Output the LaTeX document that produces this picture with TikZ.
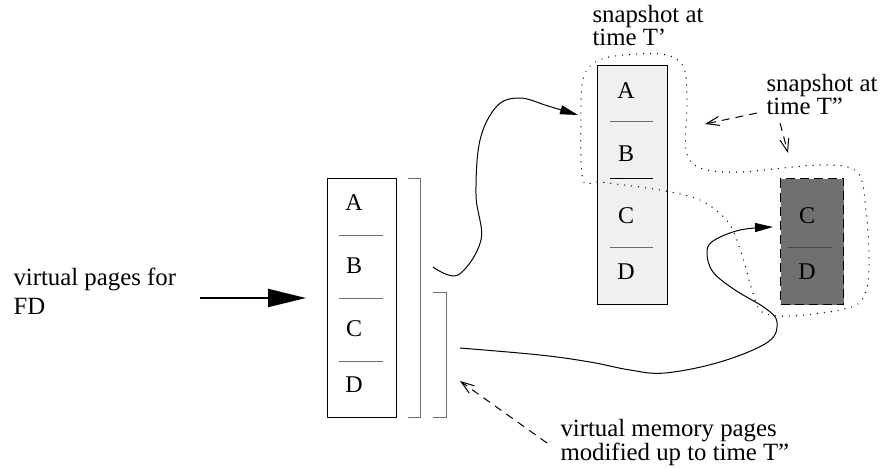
\documentclass[tikz,border=0pt]{standalone}
\usepackage{fontspec}
\setmainfont{Liberation Serif}
\usetikzlibrary{arrows.meta,positioning}
\definecolor{lightpage}{HTML}{F0F0F0}
\definecolor{darkpage}{HTML}{707070}
\definecolor{rulegray}{HTML}{6E6E6E}

\begin{document}
\begin{tikzpicture}[x=1pt, y=-1pt, line width=1pt,
  lbl/.style={anchor=base west, align=left, inner sep=0pt, font=\fontsize{24.8}{19}\selectfont},
  letter/.style={inner sep=0pt, font=\fontsize{24}{24}\selectfont},
  pagebox/.style={draw, anchor=north west, inner sep=0pt, minimum width=#1, minimum height=239pt},
  sep/.style={draw=rulegray},
  brk/.style={draw=rulegray},
  curve/.style={-{Triangle[length=18pt,width=9pt]}},
  note/.style={dash pattern=on 8pt off 6pt, -{Straight Barb[length=13pt,width=9pt]}},
  outline/.style={line cap=round, line width=1.4pt, dash pattern=on 0pt off 7pt}
]
  \useasboundingbox (0,0) rectangle (880,469);

  % page lists
  \node[pagebox=69pt] (fd) at (327,178) {};
  \node[pagebox=70pt, fill=lightpage] (snapA) at (597,65) {};
  \node[pagebox=63pt, fill=darkpage, line width=1.3pt, dash pattern=on 9pt off 5pt, minimum height=126pt] (snapB) at (780,178) {};

  \foreach \l/\y in {A/203,B/266,C/329,D/385}
    \node[letter] (fd\l) at (354,\y) {\l};
  \foreach \l/\y in {A/91,B/154,C/216,D/272}
    \node[letter] (snapA\l) at (626,\y) {\l};
  \foreach \l/\y in {C/216,D/272}
    \node[letter] (snapB\l) at (807,\y) {\l};

  \foreach \y in {235,298,361}
    \draw[sep] (339,\y) -- (383,\y);
  \draw[sep] (610,121) -- (653,121);
  \draw (610,178) -- (653,178);
  \draw[sep] (610,247) -- (653,247);
  \draw[draw=black!72] (788,247) -- (832,247);

  % brackets
  \draw[brk] (408,178) -- (420,178) -- (420,417) -- (408,417);
  \draw[brk] (433,292) -- (446,292) -- (446,417) -- (433,417);

  % labels (base = last line)
  \node[lbl, font=\fontsize{24.8}{29}\selectfont] (fdlbl) at (13,314) {virtual pages for\\FD};
  \node[lbl, font=\fontsize{24.8}{18}\selectfont] (t1lbl) at (592,45) {snapshot at\\time T'};
  \node[lbl, font=\fontsize{24.8}{20}\selectfont] (t2lbl) at (766,114) {snapshot at\\time T''};
  \node[lbl, font=\fontsize{24.8}{20}\selectfont] (vmlbl) at (560,460) {virtual memory pages\\modified up to time T''};

  % input arrow
  \coordinate (in) at (200,298);
  \draw[line width=2pt, -{Triangle[length=38pt,width=18pt]}] (in) -- ([xshift=-21pt]fd.west);

  % copy curves
  \coordinate (b1) at (433,267);
  \coordinate (b2) at (460,348);
  \draw[curve] plot[smooth, tension=0.6] coordinates {(b1) (458,275) (481,240) (476,195) (480,140) (497,106) (520,98) (548,106) (578,115)};
  \draw[curve] plot[smooth, tension=0.6] coordinates {(b2) (540,355) (590,362) (630,370) (665,373) (720,362) (768,342) (777,322) (765,308) (735,290) (713,272) (707,253) (713,241) (740,230) (773,227)};

  % snapshot outline
  \draw[outline] plot[smooth cycle, tension=0.55] coordinates {(583,180) (581,120) (584,76) (605,58) (660,54) (683,66) (687,100) (686,150) (700,168) (740,172) (820,165) (857,172) (866,210) (869,270) (862,300) (840,310) (790,316) (762,312) (752,290) (742,255) (728,222) (700,200) (660,190) (600,182)};

  % pointers
  \coordinate (p1) at (757,113);
  \coordinate (p2) at (780,123);
  \coordinate (p3) at (547,443);
  \draw[note] (p1) -- (705,124);
  \draw[note] (p2) -- (788,153);
  \draw[note] (p3) -- (460,381);
\end{tikzpicture}
\end{document}
